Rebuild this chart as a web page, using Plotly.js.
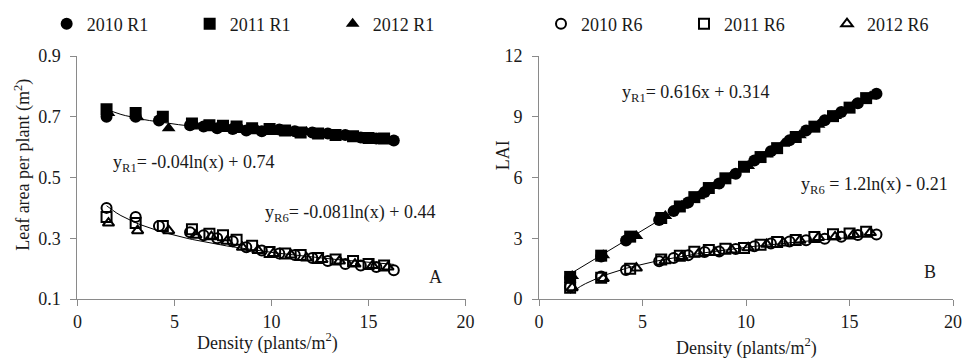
<!DOCTYPE html>
<html>
<head>
<meta charset="utf-8">
<script src="https://cdn.plot.ly/plotly-3.0.1.min.js"></script>
<style>html,body{margin:0;padding:0;background:#fff;}#chart{width:970px;height:358px;}</style>
</head>
<body>
<div id="chart"></div>
<script>
// ---- Data ----
const density2010 = [1.5, 3.0, 4.2, 5.8, 6.5, 7.2, 8.0, 8.7, 9.5, 10.4, 11.2, 12.1, 12.9, 13.8, 14.6, 15.4, 16.3];
const density2011 = [1.5, 3.0, 4.4, 5.9, 6.8, 7.5, 8.2, 9.0, 9.9, 10.7, 11.5, 12.4, 13.3, 14.2, 15.0, 15.8];
const density2012 = [1.6, 3.1, 4.7, 6.1, 6.9, 7.7, 8.5, 9.3, 10.1, 11.0, 11.8, 12.6, 13.5, 14.3, 15.2, 16.0];

// Leaf area per plant (m2)
const leafR1_2010 = [0.700, 0.700, 0.688, 0.672, 0.668, 0.662, 0.660, 0.655, 0.652, 0.658, 0.652, 0.648, 0.645, 0.640, 0.632, 0.628, 0.622];
const leafR1_2011 = [0.725, 0.712, 0.700, 0.678, 0.672, 0.670, 0.668, 0.662, 0.660, 0.655, 0.648, 0.645, 0.640, 0.636, 0.630, 0.628];
const leafR1_2012 = [0.712, 0.698, 0.662, 0.672, 0.668, 0.660, 0.656, 0.655, 0.650, 0.648, 0.650, 0.642, 0.638, 0.632, 0.630, 0.625];
const leafR6_2010 = [0.400, 0.370, 0.340, 0.320, 0.310, 0.300, 0.290, 0.270, 0.260, 0.250, 0.245, 0.235, 0.225, 0.215, 0.210, 0.205, 0.195];
const leafR6_2011 = [0.370, 0.350, 0.340, 0.330, 0.315, 0.310, 0.295, 0.275, 0.255, 0.250, 0.245, 0.235, 0.230, 0.225, 0.215, 0.210];
const leafR6_2012 = [0.350, 0.325, 0.325, 0.310, 0.305, 0.290, 0.270, 0.260, 0.250, 0.245, 0.235, 0.230, 0.225, 0.215, 0.210, 0.205];

// LAI
const laiR1_2010 = [1.05, 2.10, 2.89, 3.90, 4.34, 4.77, 5.28, 5.70, 6.19, 6.84, 7.30, 7.84, 8.32, 8.83, 9.23, 9.67, 10.14];
const laiR1_2011 = [1.09, 2.14, 3.08, 4.00, 4.57, 5.03, 5.48, 5.96, 6.53, 7.01, 7.45, 8.00, 8.51, 9.03, 9.45, 9.92];
const laiR1_2012 = [1.14, 2.16, 3.11, 4.10, 4.61, 5.08, 5.58, 6.09, 6.57, 7.13, 7.67, 8.09, 8.61, 9.04, 9.58, 10.00];
const laiR6_2010 = [0.60, 1.11, 1.43, 1.86, 2.02, 2.16, 2.32, 2.35, 2.47, 2.60, 2.74, 2.84, 2.90, 2.97, 3.07, 3.16, 3.18];
const laiR6_2011 = [0.56, 1.05, 1.50, 1.95, 2.14, 2.33, 2.42, 2.48, 2.52, 2.68, 2.82, 2.91, 3.06, 3.20, 3.23, 3.32];
const laiR6_2012 = [0.56, 1.01, 1.53, 1.89, 2.10, 2.23, 2.30, 2.42, 2.53, 2.70, 2.77, 2.90, 3.04, 3.07, 3.19, 3.28];

// Trendline equations shown in the chart: [a, b]
const trendLeafR1 = [-0.04, 0.74];   // a*ln(x)+b
const trendLeafR6 = [-0.081, 0.44];  // a*ln(x)+b
const trendLaiR1 = [0.616, 0.314];   // a*x+b
const trendLaiR6 = [1.2, -0.21];     // a*ln(x)+b
const trendRange = [1.5, 16.3];

const xTicks = [0, 5, 10, 15, 20];
const leafTicks = [0.1, 0.3, 0.5, 0.7, 0.9];
const laiTicks = [0, 3, 6, 9, 12];

// ---- Build ----
const FONT = '"Liberation Serif", "Times New Roman", serif';
const TXT = '#1a1a1a';
const AX = '#8a8a8a';
const TOP = 56, BOT = 299; // plot area in px
const py = p => (BOT - p) / (BOT - TOP); // pixel row -> paper y
const px = p => p / 970;

function trendXs(n) {
  const xs = [];
  for (let i = 0; i <= n; i++) xs.push(trendRange[0] + (trendRange[1] - trendRange[0]) * i / n);
  return xs;
}
const tx = trendXs(60);
function logLine(c) { return tx.map(x => c[0] * Math.log(x) + c[1]); }
function linLine(c) { return tx.map(x => c[0] * x + c[1]); }

function lineTrace(y, xa, ya) {
  return {x: tx, y: y, xaxis: xa, yaxis: ya, mode: 'lines', line: {color: '#000', width: 1}, showlegend: false, hoverinfo: 'skip'};
}
function pts(x, y, sym, name, xa, ya, showleg, leg) {
  const open = sym.indexOf('open') >= 0;
  return {
    x: x, y: y, xaxis: xa, yaxis: ya, mode: 'markers', name: name,
    marker: {symbol: sym, size: open ? 10 : 12, color: '#000', line: {color: '#000', width: open ? 2 : 0}},
    showlegend: showleg, legend: leg
  };
}

const data = [
  lineTrace(logLine(trendLeafR1), 'x', 'y'),
  lineTrace(logLine(trendLeafR6), 'x', 'y'),
  lineTrace(linLine(trendLaiR1), 'x2', 'y2'),
  lineTrace(logLine(trendLaiR6), 'x2', 'y2'),
  pts(density2010, leafR6_2010, 'circle-open', '2010 R6', 'x', 'y', false, 'legend2'),
  pts(density2011, leafR6_2011, 'square-open', '2011 R6', 'x', 'y', false, 'legend2'),
  pts(density2012, leafR6_2012, 'triangle-up-open', '2012 R6', 'x', 'y', false, 'legend2'),
  pts(density2010, leafR1_2010, 'circle', '2010 R1', 'x', 'y', true, 'legend'),
  pts(density2011, leafR1_2011, 'square', '2011 R1', 'x', 'y', true, 'legend'),
  pts(density2012, leafR1_2012, 'triangle-up', '2012 R1', 'x', 'y', true, 'legend'),
  pts(density2010, laiR1_2010, 'circle', '2010 R1', 'x2', 'y2', false, 'legend'),
  pts(density2011, laiR1_2011, 'square', '2011 R1', 'x2', 'y2', false, 'legend'),
  pts(density2012, laiR1_2012, 'triangle-up', '2012 R1', 'x2', 'y2', false, 'legend'),
  pts(density2010, laiR6_2010, 'circle-open', '2010 R6', 'x2', 'y2', true, 'legend2'),
  pts(density2011, laiR6_2011, 'square-open', '2011 R6', 'x2', 'y2', true, 'legend2'),
  pts(density2012, laiR6_2012, 'triangle-up-open', '2012 R6', 'x2', 'y2', true, 'legend2')
];

function xAxis(domain, anchor) {
  return {
    domain: domain, anchor: anchor, range: [0, 20], tickvals: xTicks, ticktext: xTicks.map(String),
    showline: true, linecolor: AX, linewidth: 1, ticks: 'outside', ticklen: 6, tickcolor: AX,
    showgrid: false, zeroline: false, ticklabelstandoff: 0,
    tickfont: {family: FONT, size: 18, color: TXT}
  };
}
function yAxis(range, ticks, anchor) {
  return {
    anchor: anchor, domain: [0, 1], range: range, tickvals: ticks, ticktext: ticks.map(String),
    showline: true, linecolor: AX, linewidth: 1, ticks: 'outside', ticklen: 6, tickcolor: AX,
    showgrid: false, zeroline: false, ticklabelstandoff: 6,
    tickfont: {family: FONT, size: 18, color: TXT}
  };
}

const ann = (text, x, y, xanchor, extra) => Object.assign({
  text: text, xref: 'paper', yref: 'paper', x: x, y: y, xanchor: xanchor, yanchor: 'middle',
  showarrow: false, font: {family: FONT, size: 18, color: TXT}
}, extra || {});

const legendBase = {orientation: 'h', xanchor: 'left', y: py(24), yanchor: 'middle',
  entrywidth: 98, font: {family: FONT, size: 18, color: TXT}, bgcolor: 'rgba(0,0,0,0)', tracegroupgap: 0};

const layout = {
  width: 970, height: 358,
  margin: {l: 0, r: 0, t: TOP, b: 358 - BOT},
  paper_bgcolor: '#fff', plot_bgcolor: 'rgba(0,0,0,0)',
  font: {family: FONT, size: 18, color: TXT},
  xaxis: xAxis([px(78), px(469)], 'y'),
  yaxis: yAxis([0.1, 0.9], leafTicks, 'x'),
  xaxis2: xAxis([px(543), px(960)], 'y2'),
  yaxis2: yAxis([0, 12], laiTicks, 'x2'),
  legend: Object.assign({}, legendBase, {x: px(47)}),
  legend2: Object.assign({}, legendBase, {x: px(545)}),
  annotations: [
    ann('y<sub>R1</sub>= -0.04ln(x) + 0.74', px(112), py(163), 'left'),
    ann('y<sub>R6</sub>= -0.081ln(x) + 0.44', px(265), py(213), 'left'),
    ann('A', px(439), py(277), 'center'),
    ann('y<sub>R1</sub>= 0.616x + 0.314', px(625), py(93), 'left'),
    ann('y<sub>R6</sub> = 1.2ln(x) - 0.21', px(805), py(185), 'left'),
    ann('B', px(937), py(272), 'center'),
    ann('Density (plants/m<sup>2</sup>)', px(269), py(342), 'center'),
    ann('Density (plants/m<sup>2</sup>)', px(752), py(347), 'center'),
    ann('Leaf area per plant (m<sup>2</sup>)', px(23), py(165), 'center', {textangle: -90}),
    ann('LAI', px(507), py(155), 'center', {textangle: -90})
  ]
};

Plotly.newPlot('chart', data, layout, {displayModeBar: false, staticPlot: true});
</script>
</body>
</html>
